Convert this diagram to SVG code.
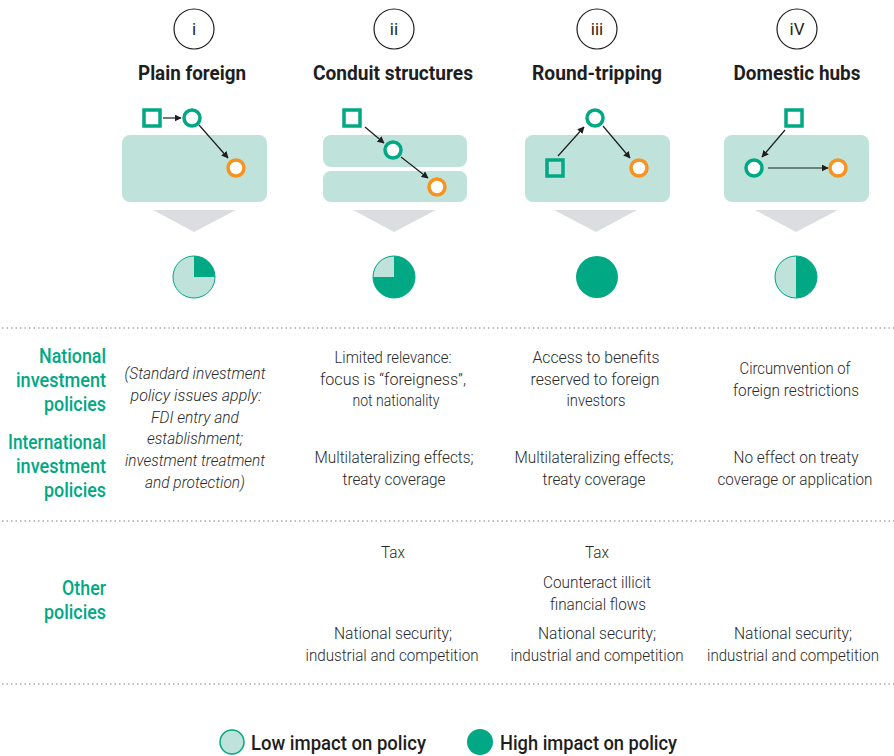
<svg xmlns="http://www.w3.org/2000/svg" width="894" height="756" viewBox="0 0 894 756">
<style>
.t{font-family:Roboto,"Liberation Sans",sans-serif;font-size:17px;font-weight:300;fill:#2a2a2a;text-anchor:middle}
.it{font-family:Roboto,"Liberation Sans",sans-serif;font-size:17px;font-weight:300;font-style:italic;fill:#2a2a2a;text-anchor:middle}
.h{font-family:Roboto,"Liberation Sans",sans-serif;font-size:20px;font-weight:700;fill:#1e1e1e;text-anchor:middle}
.lab{font-family:Roboto,"Liberation Sans",sans-serif;font-size:20px;font-weight:500;fill:#00a884;text-anchor:end}
.num{font-family:Roboto,"Liberation Sans",sans-serif;font-size:17px;font-weight:400;fill:#1e1e1e;text-anchor:middle}
.leg{font-family:Roboto,"Liberation Sans",sans-serif;font-size:20px;font-weight:500;fill:#1e1e1e}
.panel{fill:#bfe3da}
.sq{fill:none;stroke:#00a884;stroke-width:3.5}
.tc{fill:#fff;stroke:#00a884;stroke-width:3.5}
.oc{fill:#fff;stroke:#f7931e;stroke-width:3.5}
.ar{stroke:#1e1e1e;stroke-width:1.2;fill:none;marker-end:url(#ah)}
.tri{fill:#dcdde0}
.ring{fill:none;stroke:#1e1e1e;stroke-width:1.2}
.dot{stroke:#a9a9a9;stroke-width:1.5;stroke-dasharray:1.5 3}
.lo{fill:#bfe3da;stroke:#00a884;stroke-width:1}
.hi{fill:#00a884}
</style>
<defs>
<marker id="ah" viewBox="0 0 10 10" refX="9" refY="5" markerWidth="7" markerHeight="7" markerUnits="userSpaceOnUse" orient="auto">
<path d="M0,0 L10,5 L0,10 z" fill="#1e1e1e"/>
</marker>
</defs>

<g id="col-i">
<circle class="ring" cx="194" cy="29" r="20"/>
<text class="num" x="194" y="35">i</text>
<text class="h" x="192" y="80" textLength="108" lengthAdjust="spacingAndGlyphs">Plain foreign</text>
<rect class="panel" x="122" y="135" width="145" height="67" rx="8"/>
<rect class="sq" x="144" y="110" width="16" height="16"/>
<circle class="tc" cx="192" cy="118" r="8"/>
<circle class="oc" cx="236" cy="168" r="8"/>
<polygon class="tri" points="153,210 236,210 194,232"/>
<circle class="lo" cx="194" cy="277" r="21"/>
<path class="hi" d="M194,277 L194,256 A21,21 0 0 1 215,277 Z"/>
</g>

<g id="col-ii">
<circle class="ring" cx="394" cy="29" r="20"/>
<text class="num" x="394" y="35">ii</text>
<text class="h" x="393" y="80" textLength="160" lengthAdjust="spacingAndGlyphs">Conduit structures</text>
<rect class="panel" x="323" y="135" width="144" height="32" rx="8"/>
<rect class="panel" x="323" y="171" width="144" height="31" rx="8"/>
<rect class="sq" x="344" y="110" width="16" height="16"/>
<circle class="tc" cx="393" cy="150" r="8"/>
<circle class="oc" cx="437" cy="187" r="8"/>
<polygon class="tri" points="353,210 436,210 394,232"/>
<circle class="hi" cx="394" cy="277" r="21"/>
<path d="M394,277 L394,256 A21,21 0 0 0 373,277 Z" fill="#bfe3da"/>
<circle cx="394" cy="277" r="21" fill="none" stroke="#00a884" stroke-width="1"/>
</g>

<g id="col-iii">
<circle class="ring" cx="597" cy="29" r="20"/>
<text class="num" x="597" y="35">iii</text>
<text class="h" x="597" y="80" textLength="130" lengthAdjust="spacingAndGlyphs">Round-tripping</text>
<rect class="panel" x="525" y="135" width="145" height="67" rx="8"/>
<rect class="sq" x="547" y="160" width="16" height="16"/>
<circle class="tc" cx="595" cy="118" r="8"/>
<circle class="oc" cx="639" cy="168" r="8"/>
<polygon class="tri" points="554,210 637,210 596,232"/>
<circle class="hi" cx="597" cy="277" r="21"/>
</g>

<g id="col-iv">
<circle class="ring" cx="797" cy="29" r="20"/>
<text class="num" x="797" y="35">iV</text>
<text class="h" x="797" y="80" textLength="127" lengthAdjust="spacingAndGlyphs">Domestic hubs</text>
<rect class="panel" x="724" y="135" width="145" height="67" rx="8"/>
<rect class="sq" x="786" y="110" width="16" height="16"/>
<circle class="tc" cx="754" cy="168" r="8"/>
<circle class="oc" cx="838" cy="168" r="8"/>
<polygon class="tri" points="755,210 838,210 796,232"/>
<circle class="hi" cx="796" cy="277" r="21"/>
<path d="M796,256 A21,21 0 0 0 796,298 Z" fill="#bfe3da"/>
<circle cx="796" cy="277" r="21" fill="none" stroke="#00a884" stroke-width="1"/>
</g>

<g id="connectors">
<line class="ar" x1="163" y1="118" x2="181" y2="118"/>
<line class="ar" x1="199" y1="125" x2="228" y2="158"/>
<line class="ar" x1="365" y1="127" x2="384" y2="143"/>
<line class="ar" x1="401" y1="157" x2="428" y2="178"/>
<line class="ar" x1="558" y1="156" x2="584" y2="127"/>
<line class="ar" x1="603" y1="126" x2="630" y2="158"/>
<line class="ar" x1="785" y1="130" x2="762" y2="157"/>
<line class="ar" x1="768" y1="168" x2="828" y2="168"/>
</g>

<g id="separators">
<line class="dot" x1="2" y1="328" x2="894" y2="328"/>
<line class="dot" x1="2" y1="521" x2="894" y2="521"/>
<line class="dot" x1="2" y1="684" x2="894" y2="684"/>
</g>

<g id="row-labels">
<text class="lab" x="106" y="363" textLength="67" lengthAdjust="spacingAndGlyphs">National</text>
<text class="lab" x="106" y="387" textLength="90" lengthAdjust="spacingAndGlyphs">investment</text>
<text class="lab" x="106" y="411" textLength="62" lengthAdjust="spacingAndGlyphs">policies</text>
<text class="lab" x="106" y="449" textLength="98" lengthAdjust="spacingAndGlyphs">International</text>
<text class="lab" x="106" y="473" textLength="90" lengthAdjust="spacingAndGlyphs">investment</text>
<text class="lab" x="106" y="497" textLength="62" lengthAdjust="spacingAndGlyphs">policies</text>
<text class="lab" x="106" y="595" textLength="44" lengthAdjust="spacingAndGlyphs">Other</text>
<text class="lab" x="106" y="619" textLength="62" lengthAdjust="spacingAndGlyphs">policies</text>
</g>

<g id="cells-i">
<text class="it" x="195" y="379" textLength="141" lengthAdjust="spacingAndGlyphs">(Standard investment</text>
<text class="it" x="196" y="401" textLength="131" lengthAdjust="spacingAndGlyphs">policy issues apply:</text>
<text class="it" x="195" y="423" textLength="88" lengthAdjust="spacingAndGlyphs">FDI entry and</text>
<text class="it" x="195" y="444" textLength="96" lengthAdjust="spacingAndGlyphs">establishment;</text>
<text class="it" x="195" y="466" textLength="140" lengthAdjust="spacingAndGlyphs">investment treatment</text>
<text class="it" x="195" y="488" textLength="100" lengthAdjust="spacingAndGlyphs">and protection)</text>
</g>

<g id="cells-ii">
<text class="t" x="393" y="363" textLength="117" lengthAdjust="spacingAndGlyphs">Limited relevance:</text>
<text class="t" x="393" y="385" textLength="146" lengthAdjust="spacingAndGlyphs">focus is “foreigness”,</text>
<text class="t" x="396" y="406" textLength="87" lengthAdjust="spacingAndGlyphs">not nationality</text>
<text class="t" x="394" y="463" textLength="159" lengthAdjust="spacingAndGlyphs">Multilateralizing effects;</text>
<text class="t" x="394" y="485" textLength="103" lengthAdjust="spacingAndGlyphs">treaty coverage</text>
<text class="t" x="393" y="558" textLength="24" lengthAdjust="spacingAndGlyphs">Tax</text>
<text class="t" x="393" y="639" textLength="118" lengthAdjust="spacingAndGlyphs">National security;</text>
<text class="t" x="392" y="661" textLength="173" lengthAdjust="spacingAndGlyphs">industrial and competition</text>
</g>

<g id="cells-iii">
<text class="t" x="596" y="363" textLength="127" lengthAdjust="spacingAndGlyphs">Access to benefits</text>
<text class="t" x="595" y="385" textLength="129" lengthAdjust="spacingAndGlyphs">reserved to foreign</text>
<text class="t" x="596" y="406" textLength="59" lengthAdjust="spacingAndGlyphs">investors</text>
<text class="t" x="594" y="463" textLength="159" lengthAdjust="spacingAndGlyphs">Multilateralizing effects;</text>
<text class="t" x="594" y="485" textLength="103" lengthAdjust="spacingAndGlyphs">treaty coverage</text>
<text class="t" x="597" y="558" textLength="24" lengthAdjust="spacingAndGlyphs">Tax</text>
<text class="t" x="597" y="588" textLength="108" lengthAdjust="spacingAndGlyphs">Counteract illicit</text>
<text class="t" x="598" y="610" textLength="96" lengthAdjust="spacingAndGlyphs">financial flows</text>
<text class="t" x="597" y="639" textLength="118" lengthAdjust="spacingAndGlyphs">National security;</text>
<text class="t" x="597" y="661" textLength="173" lengthAdjust="spacingAndGlyphs">industrial and competition</text>
</g>

<g id="cells-iv">
<text class="t" x="795" y="374" textLength="111" lengthAdjust="spacingAndGlyphs">Circumvention of</text>
<text class="t" x="796" y="396" textLength="126" lengthAdjust="spacingAndGlyphs">foreign restrictions</text>
<text class="t" x="796" y="463" textLength="125" lengthAdjust="spacingAndGlyphs">No effect on treaty</text>
<text class="t" x="795" y="485" textLength="155" lengthAdjust="spacingAndGlyphs">coverage or application</text>
<text class="t" x="793" y="639" textLength="118" lengthAdjust="spacingAndGlyphs">National security;</text>
<text class="t" x="793" y="661" textLength="172" lengthAdjust="spacingAndGlyphs" style="font-size:16px">industrial and competition</text>
</g>

<g id="legend">
<circle cx="232" cy="742" r="12" fill="#bfe3da" stroke="#00a884" stroke-width="1.5"/>
<text class="leg" x="251" y="750" textLength="175" lengthAdjust="spacingAndGlyphs">Low impact on policy</text>
<circle cx="480" cy="742" r="13" fill="#00a884"/>
<text class="leg" x="500" y="750" textLength="177" lengthAdjust="spacingAndGlyphs">High impact on policy</text>
</g>
</svg>
